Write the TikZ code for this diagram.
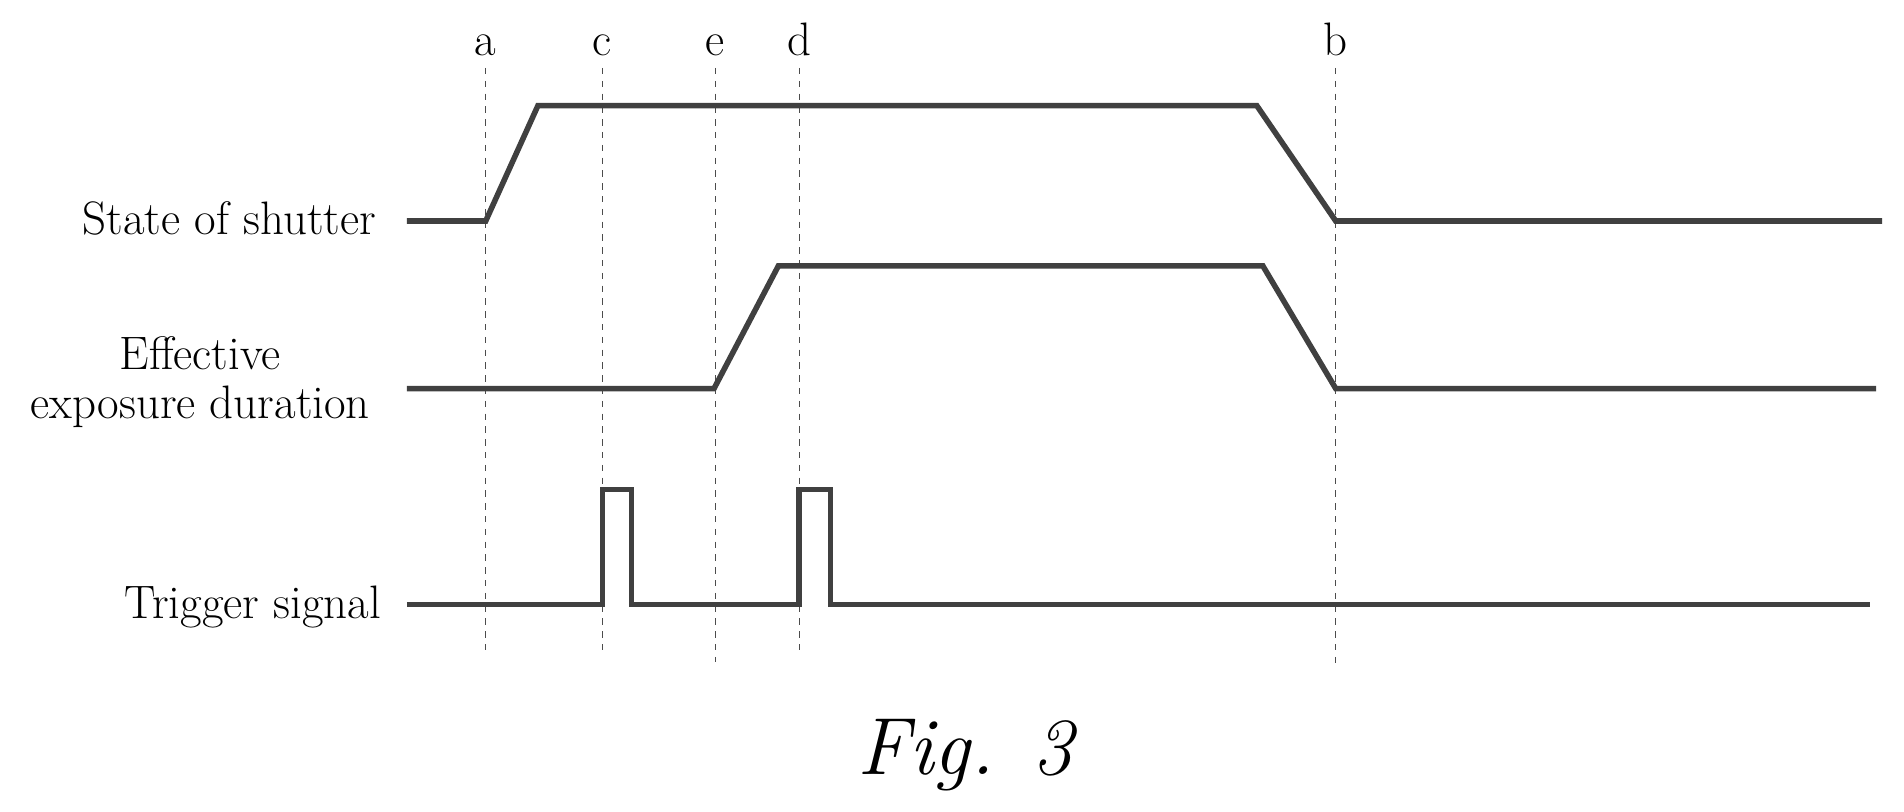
\documentclass[tikz,border=0pt]{standalone}
\begin{document}
\begin{tikzpicture}[x=0.02cm,y=-0.02cm,
  sig/.style={line width=2.6pt,draw=black!75,line join=miter},
  guide/.style={thin,dashed,black!70},
  lbl/.style={font=\fontsize{22}{25}\selectfont,inner sep=0pt},
  tick/.style={font=\fontsize{22}{25}\selectfont,inner sep=0pt,anchor=base}]
\useasboundingbox (0,0) rectangle (1568,668);
% guides
\foreach \n/\x/\yb in {a/400/540,c/496/540,e/589/545,d/658/540,b/1100/548}{
  \node[tick] (t\n) at (\x,46) {\n};
  \coordinate (g\n) at (\x,\yb);
  \draw[guide] (\x,56) -- (g\n);
}
% labels
\node[lbl,anchor=east] (ls) at (310,180) {State of shutter};
\node[lbl,align=center] (le) at (165,315) {Effective\\[-2pt]exposure duration};
\node[lbl,anchor=east] (lt) at (314,500) {Trigger signal};
% signals
\draw[sig] (335,182) -- (400,182) -- (443,87) -- (1035,87) -- (1100,182) -- (1550,182);
\draw[sig] (335,320) -- (588,320) -- (641,219) -- (1040,219) -- (1100,320) -- (1545,320);
\draw[sig] (335,498) -- (496,498) -- (496,403) -- (520,403) -- (520,498) -- (658,498) -- (658,403) -- (684,403) -- (684,498) -- (1540,498);
\node[font=\itshape\fontsize{38}{42}\selectfont,inner sep=0pt] (fig) at (795,622) {Fig. 3};
\end{tikzpicture}
\end{document}
